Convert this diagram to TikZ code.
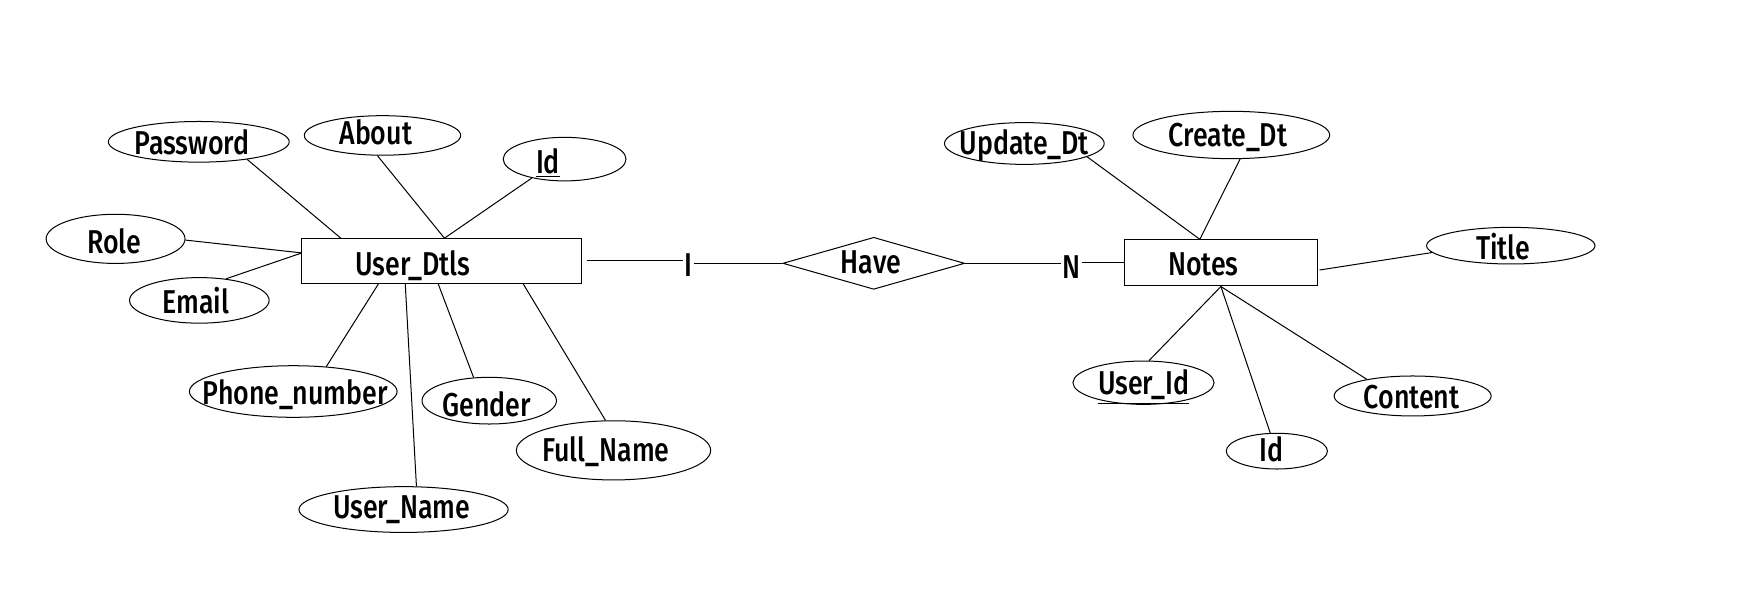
\documentclass[tikz,border=0pt]{standalone}
\usepackage{fontspec}
\setmainfont[FakeStretch=0.81, UprightFont=* Medium]{Fira Sans}
\usetikzlibrary{shapes.geometric}
\begin{document}
\begin{tikzpicture}[x=0.5pt,y=-0.5pt,
  ln/.style={line width=0.45pt, draw=black},
  attr/.style={ellipse, draw, line width=0.45pt, inner sep=0pt},
  ent/.style={rectangle, draw, line width=0.45pt, inner sep=0pt},
  relsh/.style={diamond, draw, line width=0.45pt, inner sep=0pt},
  txt/.style={anchor=base, inner sep=0pt, font=\fontsize{14.8}{17}\selectfont},
  card/.style={anchor=base, inner sep=0.6pt, font=\fontsize{14.8}{17}\selectfont}]
\fill[white] (0,0) rectangle (1568,527.4);
\path[use as bounding box] (0,0) rectangle (1568,527.4);

% entities and relationship
\node[ent, minimum width=125.25pt, minimum height=20.45pt] (ud) at (395.5,233.75) {};
\node[txt] (udT) at (369.6,246.3) {User\_Dtls};
\node[ent, minimum width=86.35pt, minimum height=20.9pt] (notes) at (1093.25,235.2) {};
\node[txt] (notesT) at (1077.6,246.3) {Notes};
\node[relsh, minimum width=81.4pt, minimum height=23.3pt] (rel) at (782.4,235.8) {};
\node[txt] (relT) at (780,244.8) {Have};
\node[card] (one) at (616.4,247.2) {I};
\node[card] (many) at (959.4,249.3) {N};

% User_Dtls attributes
\node[attr, minimum width=81pt, minimum height=18.2pt] (pw) at (178,127) {};
\node[txt] (pwT) at (172,138.8) {Password};
\node[attr, minimum width=70pt, minimum height=17.7pt] (ab) at (342.5,121.3) {};
\node[txt] (abT) at (336.5,129.8) {About};
\node[attr, minimum width=55pt, minimum height=19.5pt] (id1) at (505.6,142.5) {};
\node[txt] (id1T) at (490.7,155.2) {\underline{Id}};
\node[attr, minimum width=62.2pt, minimum height=22pt] (ro) at (103.5,213.9) {};
\node[txt] (roT) at (102.3,226.9) {Role};
\node[attr, minimum width=62.5pt, minimum height=20.4pt] (em) at (178.5,269) {};
\node[txt] (emT) at (175.5,280.6) {Email};
\node[attr, minimum width=93pt, minimum height=23.1pt] (ph) at (262.6,350.6) {};
\node[txt] (phT) at (264.5,361.8) {Phone\_number};
\node[attr, minimum width=93.7pt, minimum height=20.5pt] (un) at (361.4,456.3) {};
\node[txt] (unT) at (359.7,464.2) {User\_Name};
\node[attr, minimum width=60.2pt, minimum height=20.9pt] (ge) at (438.1,358.8) {};
\node[txt] (geT) at (435.9,373.1) {Gender};
\node[attr, minimum width=87pt, minimum height=26.5pt] (fn) at (549.4,403.3) {};
\node[txt] (fnT) at (542.5,413.4) {Full\_Name};

% Notes attributes
\node[attr, minimum width=71.5pt, minimum height=18.7pt] (upd) at (917.3,128.5) {};
\node[txt] (updT) at (917.3,138.8) {Update\_Dt};
\node[attr, minimum width=88.1pt, minimum height=21.2pt] (cd) at (1102.6,120.9) {};
\node[txt] (cdT) at (1099.6,131.3) {Create\_Dt};
\node[attr, minimum width=75.4pt, minimum height=16.4pt] (ti) at (1352.9,220) {};
\node[txt] (tiT) at (1346,232.2) {Title};
\node[attr, minimum width=63.2pt, minimum height=19.4pt] (ui) at (1024,342.7) {};
\node[txt] (uiT) at (1024.1,353.7) {\underline{User\_Id}};
\node[attr, minimum width=70.3pt, minimum height=17.9pt] (co) at (1265,354.6) {};
\node[txt] (coT) at (1264.1,365.6) {Content};
\node[attr, minimum width=45.3pt, minimum height=16pt] (id2) at (1143.4,404) {};
\node[txt] (id2T) at (1139,413.4) {Id};

% connection points on the entity boxes
\coordinate (udPw) at (305.2,213.3);
\coordinate (udTop) at (398,213.3);
\coordinate (udL) at (270.3,226.5);
\coordinate (udB1) at (338.9,254.2);
\coordinate (udB2) at (362.9,254.2);
\coordinate (udB3) at (392.4,254.2);
\coordinate (udB4) at (468.5,254.2);
\coordinate (udR) at (525.2,233.4);
\coordinate (ntTop) at (1074.4,214.3);
\coordinate (ntR) at (1181.6,241.8);
\coordinate (ntB) at (1093.3,256.6);

% connectors
\draw[ln] (pw.340) -- (udPw);
\draw[ln] (ab.256) -- (udTop);
\draw[ln] (id1.210) -- (udTop);
\draw[ln] (ro.359) -- (udL);
\draw[ln] (em.39) -- (udL);
\draw[ln] (ph.37) -- (udB1);
\draw[ln] (un.61) -- (udB2);
\draw[ln] (ge.124) -- (udB3);
\draw[ln] (fn.105) -- (udB4);
\draw[ln] (udR) -- (udR -| one.west);
\draw[ln] (one.east |- rel.west) -- (rel.west);
\draw[ln] (rel.east) -- (rel.east -| many.west);
\draw[ln] (many.east |- notes.west) -- (notes.west);
\draw[ln] (upd.348) -- (ntTop);
\draw[ln] (cd.290) -- (ntTop);
\draw[ln] (ti.185) -- (ntR);
\draw[ln] (ui.76) -- (ntB);
\draw[ln] (co.160) -- (ntB);
\draw[ln] (id2.110) -- (ntB);
\end{tikzpicture}
\end{document}
